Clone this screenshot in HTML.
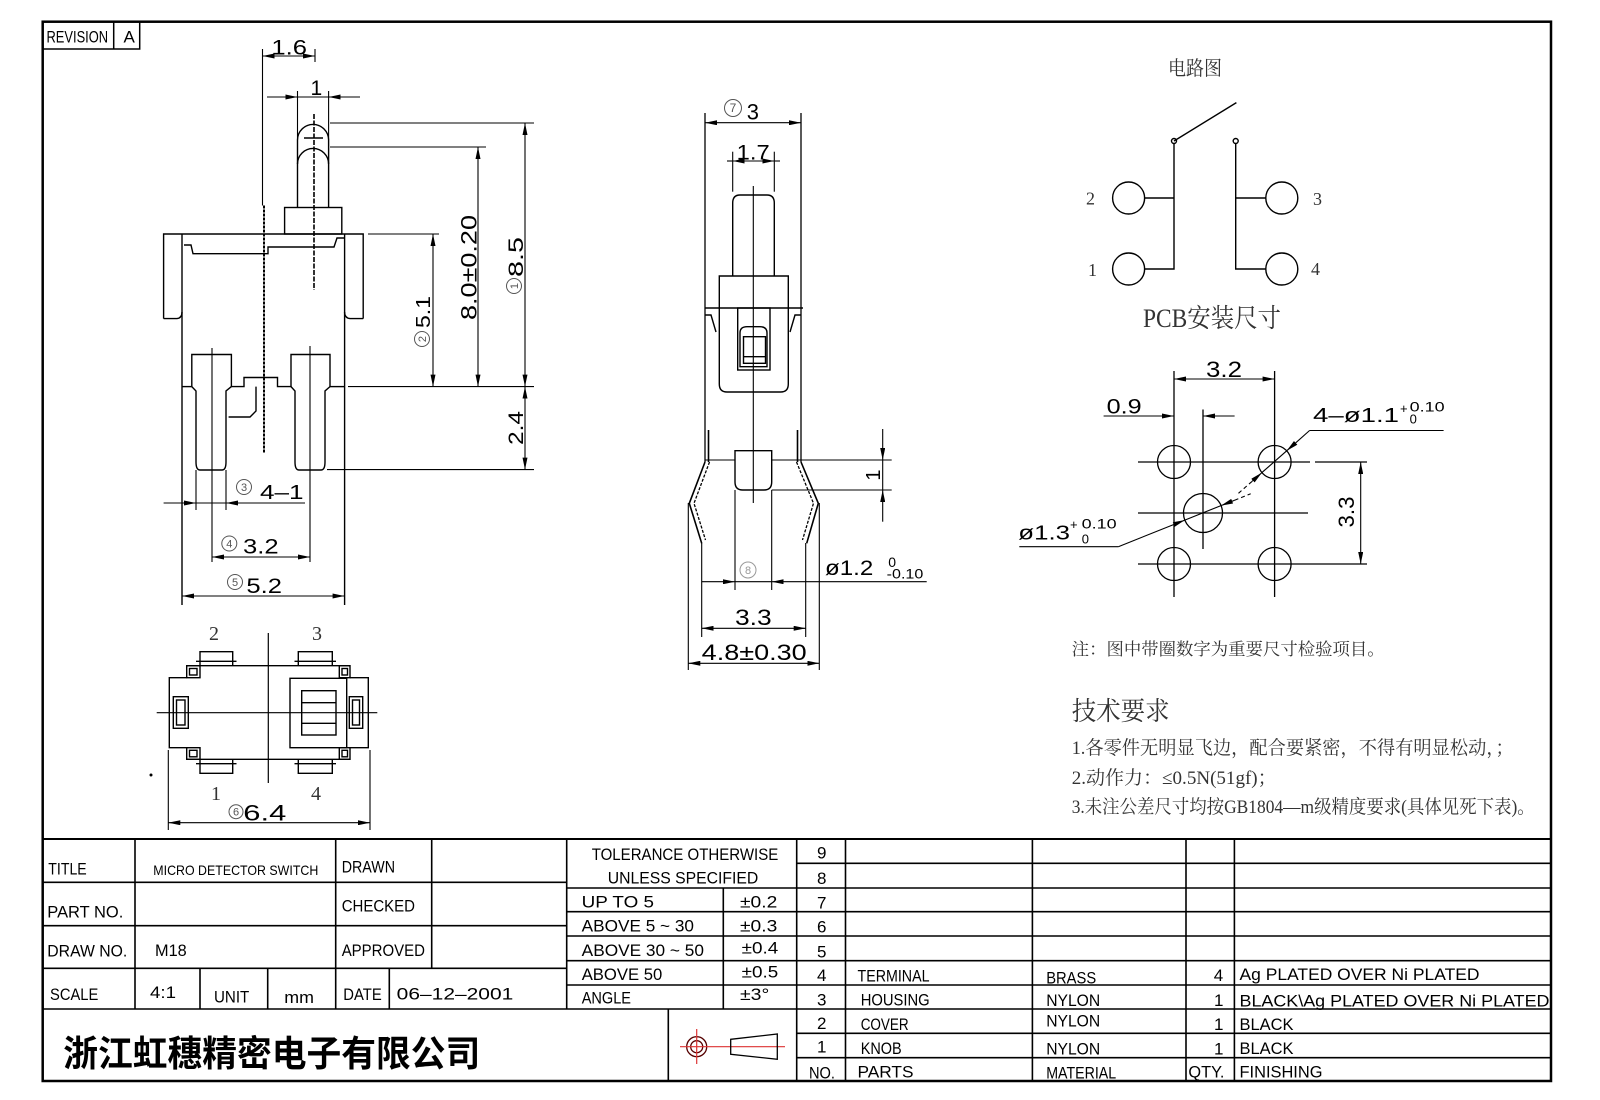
<!DOCTYPE html>
<html><head><meta charset="utf-8"><style>
html,body{margin:0;padding:0;background:#fff;}
svg{display:block}
text{font-family:"Liberation Sans","Noto Sans CJK SC",sans-serif;fill:#000;stroke:none}
.cj{font-family:"Liberation Serif","Noto Serif CJK SC",serif;fill:#333}
.sf{font-family:"Liberation Serif",serif;fill:#333}
.cn{fill:#555}
.gy{fill:#999}
.bold{font-family:"Liberation Sans","Noto Sans CJK SC",sans-serif;font-weight:bold;fill:#000}
</style></head><body>
<svg width="1600" height="1100" viewBox="0 0 1600 1100" xmlns="http://www.w3.org/2000/svg">
<defs><marker id="a" viewBox="0 0 12 5" refX="12" refY="2.5" markerWidth="12" markerHeight="5" markerUnits="userSpaceOnUse" orient="auto-start-reverse"><path d="M0,0L12,2.5L0,5z" fill="#000" stroke="none"/></marker></defs>

<g fill="none" stroke="#000" stroke-width="1.4">
<!-- border & revision -->
<rect x="42.7" y="21.7" width="1508.3" height="1059.3" stroke-width="2.5"/>
<rect x="42.7" y="21.7" width="97" height="27.3" stroke-width="1.5"/>
<line x1="113.7" y1="21.7" x2="113.7" y2="49" stroke-width="1.5"/>

<!-- ===== LEFT VIEW ===== -->
<path d="M297.5,207.5V140A15.55,15.55 0 0 1 328.6,140V207.5"/>
<path d="M297.5,164A15.55,15.55 0 0 1 328.6,164"/>
<line x1="304" y1="138" x2="323" y2="138"/>
<line x1="314" y1="114" x2="314" y2="290" stroke-dasharray="5 1.5" stroke-width="1.6"/>
<rect x="284.6" y="207.5" width="57.2" height="26.5"/>
<path d="M163.6,318.6V234H363.2V318.6"/>
<path d="M163.6,318.6H177Q182,318 182,312"/>
<path d="M363.2,318.6H350Q344.6,318 344.6,312"/>
<line x1="182" y1="234" x2="182" y2="605"/>
<line x1="344.6" y1="234" x2="344.6" y2="605"/>
<path d="M184,245H191L193,253.7H268V247H334L337,238H344.6"/>
<path d="M182,386.6H191.8"/>
<path d="M191.8,386.6V354.5H231.4V386.6"/>
<path d="M191.8,386.6L196,391V462Q196,470 200,470H222Q226,470 226,462V391L231.4,386.6"/>
<path d="M231.4,386.6H244V377.5H277.5V386.6H291"/>
<path d="M256,386.6V411L250,417H228.6"/>
<path d="M291,386.6V354.5H330V386.6"/>
<path d="M291,386.6L295,391V462Q295,470 299,470H321Q325,470 325,462V391L330,386.6"/>
<path d="M330,386.6H344.6"/>
<line x1="264" y1="205.5" x2="264" y2="452.5" stroke-dasharray="3 1" stroke-width="2"/>
<g stroke-width="1.1">
<line x1="212" y1="348" x2="212" y2="562"/>
<line x1="310" y1="346" x2="310" y2="562"/>
<line x1="196" y1="470" x2="196" y2="510"/>
<line x1="226" y1="470" x2="226" y2="510"/>
<!-- 1.6 -->
<line x1="262.5" y1="49" x2="262.5" y2="205.5"/>
<line x1="315" y1="49" x2="315" y2="62"/>
<line x1="262.5" y1="56" x2="315" y2="56" marker-start="url(#a)" marker-end="url(#a)"/>
<!-- 1 -->
<line x1="297.5" y1="91" x2="297.5" y2="140"/>
<line x1="328.6" y1="91" x2="328.6" y2="140"/>
<line x1="267" y1="97" x2="297.5" y2="97" marker-end="url(#a)"/>
<line x1="360" y1="97" x2="328.6" y2="97" marker-end="url(#a)"/>
<line x1="297.5" y1="97" x2="328.6" y2="97"/>
<!-- right dims -->
<line x1="330" y1="123" x2="534" y2="123"/>
<line x1="330" y1="147" x2="486" y2="147"/>
<line x1="368" y1="234" x2="439" y2="234"/>
<line x1="348" y1="386.6" x2="534" y2="386.6"/>
<line x1="327" y1="469.6" x2="534" y2="469.6"/>
<line x1="433" y1="234" x2="433" y2="386.6" marker-start="url(#a)" marker-end="url(#a)"/>
<line x1="478" y1="147" x2="478" y2="386.6" marker-start="url(#a)" marker-end="url(#a)"/>
<line x1="525" y1="123" x2="525" y2="386.6" marker-start="url(#a)" marker-end="url(#a)"/>
<line x1="525" y1="386.6" x2="525" y2="469.6" marker-start="url(#a)" marker-end="url(#a)"/>
<!-- bottom dims -->
<line x1="163.6" y1="503" x2="196" y2="503" marker-end="url(#a)"/>
<line x1="305" y1="503" x2="226" y2="503" marker-end="url(#a)"/>
<line x1="196" y1="503" x2="226" y2="503"/>
<line x1="212" y1="557" x2="310" y2="557" marker-start="url(#a)" marker-end="url(#a)"/>
<line x1="182" y1="596" x2="344.6" y2="596" marker-start="url(#a)" marker-end="url(#a)"/>
</g>
<g stroke="#555" stroke-width="1">
<circle cx="422" cy="339" r="7.5"/>
<circle cx="514" cy="286" r="7.5"/>
<circle cx="244" cy="487" r="7.5"/>
<circle cx="229.3" cy="543.5" r="7.5"/>
<circle cx="235" cy="582" r="7.5"/>
<circle cx="236" cy="811.7" r="7"/>
<circle cx="733" cy="108" r="8.5"/>
</g>
<circle cx="748" cy="570" r="8" stroke="#999" stroke-width="1"/>

<!-- ===== MIDDLE VIEW ===== -->
<path d="M732.7,276V203Q732.7,195 740,195H767Q774.3,195 774.3,203V276"/>
<line x1="753.3" y1="186" x2="753.3" y2="503" stroke-width="1.1"/>
<path d="M719.3,276H788.3V384Q788.3,392 780.6,392H727Q719.3,392 719.3,384Z"/>
<line x1="705" y1="308" x2="803" y2="308"/>
<line x1="705" y1="113" x2="705" y2="462" stroke-width="1.3"/>
<line x1="801" y1="113" x2="801" y2="462" stroke-width="1.3"/>
<path d="M705,315H711L716,332M801,315H795L790,332"/>
<rect x="737.7" y="308" width="32.3" height="62"/>
<path d="M740,366.7V333Q740,326.7 747,326.7H760Q767,326.7 767,333V366.7Z"/>
<rect x="743.5" y="336.7" width="22" height="26.6"/>
<line x1="743.5" y1="356.7" x2="765.5" y2="356.7"/>
<path d="M708.5,430V462M797.5,430V462" stroke-width="1.6"/>
<path d="M705,462L689.3,503.3L701.7,543.3" stroke-width="1.6"/>
<path d="M709.5,462L694,503.3L705.5,540" stroke-width="1.3" stroke-dasharray="3 1.5"/>
<path d="M801,462L818.3,503.3L806.7,543.3" stroke-width="1.6"/>
<path d="M796.5,462L813.5,503.3L802.5,540" stroke-width="1.3" stroke-dasharray="3 1.5"/>
<path d="M735,450.7H771.7V482Q771.7,490 764,490H742.7Q735,490 735,482Z"/>
<g stroke-width="1.1">
<line x1="705" y1="460" x2="735" y2="460"/>
<line x1="771.7" y1="460" x2="891.7" y2="460"/>
<line x1="771.7" y1="490" x2="891.7" y2="490"/>
<line x1="688.3" y1="503" x2="688.3" y2="670"/>
<line x1="819.3" y1="503" x2="819.3" y2="670"/>
<line x1="701.7" y1="543" x2="701.7" y2="637"/>
<line x1="805.7" y1="543" x2="805.7" y2="637"/>
<line x1="735" y1="490" x2="735" y2="590"/>
<line x1="771.7" y1="490" x2="771.7" y2="590"/>
<line x1="705" y1="122.7" x2="801" y2="122.7" marker-start="url(#a)" marker-end="url(#a)"/>
<line x1="732.7" y1="151.7" x2="732.7" y2="191.7"/>
<line x1="774.3" y1="151.7" x2="774.3" y2="191.7"/>
<line x1="732.7" y1="161" x2="774.3" y2="161" marker-start="url(#a)" marker-end="url(#a)"/>
<line x1="727" y1="161" x2="732.7" y2="161"/>
<line x1="774.3" y1="161" x2="780" y2="161"/>
<line x1="882.7" y1="429" x2="882.7" y2="460" marker-end="url(#a)"/>
<line x1="882.7" y1="521.7" x2="882.7" y2="490" marker-end="url(#a)"/>
<line x1="882.7" y1="460" x2="882.7" y2="490"/>
<line x1="701.7" y1="581.7" x2="735" y2="581.7" marker-end="url(#a)"/>
<line x1="926.7" y1="581.7" x2="771.7" y2="581.7" marker-end="url(#a)"/>
<line x1="735" y1="581.7" x2="771.7" y2="581.7"/>
<line x1="701.7" y1="628.3" x2="805.7" y2="628.3" marker-start="url(#a)" marker-end="url(#a)"/>
<line x1="688.3" y1="663.3" x2="819.3" y2="663.3" marker-start="url(#a)" marker-end="url(#a)"/>
</g>

<!-- ===== BOTTOM-LEFT VIEW ===== -->
<line x1="268.3" y1="633" x2="268.3" y2="783" stroke-width="1.2"/>
<line x1="156.7" y1="712.7" x2="377.3" y2="712.7" stroke-width="1.2"/>
<line x1="186.7" y1="665.7" x2="350" y2="665.7"/>
<line x1="186.7" y1="759.3" x2="350" y2="759.3"/>
<path d="M186.7,677.7H169.3V747.7H186.7"/>
<path d="M350,677.7H368.3V747.7H350"/>
<rect x="186.7" y="665.7" width="13.3" height="12"/><rect x="189.5" y="668.5" width="7.5" height="6.5"/>
<rect x="339.3" y="665.7" width="10.7" height="12"/><rect x="342" y="668.5" width="5.5" height="6.5"/>
<rect x="186.7" y="747.7" width="13.3" height="11.6"/><rect x="189.5" y="750.3" width="7.5" height="6.5"/>
<rect x="339.3" y="747.7" width="10.7" height="11.6"/><rect x="342" y="750.3" width="5.5" height="6.5"/>
<path d="M200,665.7V651.7H232.7V665.7"/><line x1="196" y1="661.3" x2="236.5" y2="661.3"/>
<path d="M298.3,665.7V651.7H332.3V665.7"/><line x1="294.5" y1="661.3" x2="336" y2="661.3"/>
<path d="M200,759.3V773.3H232.7V759.3"/><line x1="196" y1="763.7" x2="236.5" y2="763.7"/>
<path d="M298.3,759.3V773.3H332.3V759.3"/><line x1="294.5" y1="763.7" x2="336" y2="763.7"/>
<rect x="290" y="678.3" width="56.7" height="69.4"/>
<rect x="301.7" y="690.7" width="34.3" height="44.3"/>
<line x1="301.7" y1="702.7" x2="336" y2="702.7"/><line x1="301.7" y1="723.3" x2="336" y2="723.3"/>
<rect x="173.3" y="696.7" width="15" height="31.6"/><rect x="176.5" y="700" width="8.5" height="25"/>
<rect x="349.3" y="696.7" width="13.4" height="31.6"/><rect x="352.5" y="700" width="7" height="25"/>
<g stroke-width="1.1">
<line x1="168.3" y1="750" x2="168.3" y2="830"/><line x1="370" y1="750" x2="370" y2="830"/>
<line x1="168.3" y1="822.7" x2="370" y2="822.7" marker-start="url(#a)" marker-end="url(#a)"/>
</g>
<circle cx="151" cy="775" r="0.8" fill="#000"/>

<!-- ===== CIRCUIT ===== -->
<line x1="1174" y1="141" x2="1236.4" y2="102.6"/>
<circle cx="1174" cy="141" r="2.5"/><circle cx="1235.7" cy="141" r="2.5"/>
<path d="M1174,143.5V269H1144.6M1174,198H1144.6"/>
<path d="M1235.7,143.5V269H1265.7M1235.7,198H1265.7"/>
<circle cx="1128.6" cy="198" r="16"/>
<circle cx="1128.6" cy="269" r="16"/>
<circle cx="1281.8" cy="198" r="16"/>
<circle cx="1281.8" cy="269" r="16"/>

<!-- ===== PCB ===== -->
<g stroke-width="1.3">
<line x1="1174" y1="371" x2="1174" y2="597"/>
<line x1="1274.6" y1="371" x2="1274.6" y2="597"/>
<line x1="1203" y1="409.5" x2="1203" y2="549"/>
<line x1="1138" y1="462" x2="1310" y2="462"/><line x1="1315" y1="462" x2="1367" y2="462"/>
<line x1="1138" y1="513" x2="1308" y2="513"/>
<line x1="1138" y1="564" x2="1367" y2="564"/>
<circle cx="1174" cy="462" r="16.5"/>
<circle cx="1274.6" cy="462" r="16.5"/>
<circle cx="1174" cy="564" r="16.5"/>
<circle cx="1274.6" cy="564" r="16.5"/>
<circle cx="1203" cy="513" r="19.5"/>
</g>
<g stroke-width="1.1">
<line x1="1174" y1="379" x2="1274.6" y2="379" marker-start="url(#a)" marker-end="url(#a)"/>
<line x1="1103.6" y1="416" x2="1174" y2="416" marker-end="url(#a)"/>
<line x1="1234.6" y1="416" x2="1203" y2="416" marker-end="url(#a)"/>
<line x1="1360.7" y1="462" x2="1360.7" y2="564" marker-start="url(#a)" marker-end="url(#a)"/>
<line x1="1309.6" y1="430.5" x2="1443.6" y2="430.5"/>
<line x1="1309.6" y1="430.5" x2="1286.7" y2="450.8" marker-end="url(#a)"/>
<line x1="1286.7" y1="450.8" x2="1261.9" y2="472.6"/>
<line x1="1252" y1="481.4" x2="1261.9" y2="472.6" marker-end="url(#a)"/>
<line x1="1252" y1="481.4" x2="1238" y2="493.7" stroke-dasharray="4 3"/>
<path d="M1019.3,546.7H1118.3"/>
<line x1="1118.3" y1="546.7" x2="1184.8" y2="520.1" marker-end="url(#a)"/>
<line x1="1184.8" y1="520.1" x2="1221" y2="505.6"/>
<line x1="1234.6" y1="500.2" x2="1221" y2="505.6" marker-end="url(#a)"/>
<line x1="1234.6" y1="500.2" x2="1250.7" y2="493.7" stroke-dasharray="4 3"/>
</g>

<!-- ===== TITLE BLOCK ===== -->
<g stroke-width="1.6">
<line x1="42.7" y1="839" x2="1551" y2="839" stroke-width="2"/>
<line x1="42.7" y1="882.3" x2="566.7" y2="882.3"/>
<line x1="42.7" y1="925.7" x2="566.7" y2="925.7"/>
<line x1="42.7" y1="968.3" x2="566.7" y2="968.3"/>
<line x1="42.7" y1="1009" x2="1551" y2="1009"/>
<line x1="796.7" y1="863.3" x2="1551" y2="863.3"/>
<line x1="566.7" y1="888" x2="1551" y2="888"/>
<line x1="566.7" y1="911.7" x2="1551" y2="911.7"/>
<line x1="566.7" y1="936" x2="1551" y2="936"/>
<line x1="566.7" y1="960.7" x2="1551" y2="960.7"/>
<line x1="566.7" y1="985" x2="1551" y2="985"/>
<line x1="796.7" y1="1033.3" x2="1551" y2="1033.3"/>
<line x1="796.7" y1="1057.7" x2="1551" y2="1057.7"/>
<line x1="135" y1="839" x2="135" y2="1009"/>
<line x1="335.7" y1="839" x2="335.7" y2="1009"/>
<line x1="431.7" y1="839" x2="431.7" y2="968.3"/>
<line x1="200" y1="968.3" x2="200" y2="1009"/>
<line x1="267.7" y1="968.3" x2="267.7" y2="1009"/>
<line x1="389.3" y1="968.3" x2="389.3" y2="1009"/>
<line x1="566.7" y1="839" x2="566.7" y2="1009"/>
<line x1="723.3" y1="888" x2="723.3" y2="1009"/>
<line x1="668.3" y1="1009" x2="668.3" y2="1081"/>
<line x1="796.7" y1="839" x2="796.7" y2="1081"/>
<line x1="845.5" y1="839" x2="845.5" y2="1081"/>
<line x1="1032.4" y1="839" x2="1032.4" y2="1081"/>
<line x1="1186" y1="839" x2="1186" y2="1081"/>
<line x1="1234.4" y1="839" x2="1234.4" y2="1081"/>
</g>
<!-- symbol -->
<circle cx="696.7" cy="1046.7" r="10" stroke="#500" stroke-width="1.3"/>
<circle cx="696.7" cy="1046.7" r="6" stroke="#500" stroke-width="1.3"/>
<line x1="680" y1="1046.7" x2="785" y2="1046.7" stroke="#d33" stroke-width="1.2"/>
<line x1="696.7" y1="1029" x2="696.7" y2="1064" stroke="#d33" stroke-width="1.2"/>
<path d="M730.7,1039.3L777.3,1034V1059.3L730.7,1054.3Z" stroke-width="1.3"/>
</g>

<!-- ===== TEXT ===== -->
<text x="46.5" y="42.3" font-size="17" textLength="61.6" lengthAdjust="spacingAndGlyphs">REVISION</text>
<text x="123.5" y="42.3" font-size="17">A</text>

<!-- left view texts -->
<text x="271.4" y="54.5" font-size="21" textLength="35.6" lengthAdjust="spacingAndGlyphs">1.6</text>
<text x="310.5" y="95" font-size="21">1</text>
<text transform="translate(430,312) rotate(-90)" font-size="20" text-anchor="middle" textLength="32" lengthAdjust="spacingAndGlyphs">5.1</text>
<text class="cn" transform="translate(426,339) rotate(-90)" font-size="11" text-anchor="middle">2</text>
<text transform="translate(476.5,267.5) rotate(-90)" font-size="22" text-anchor="middle" textLength="105" lengthAdjust="spacingAndGlyphs">8.0±0.20</text>
<text transform="translate(523,257) rotate(-90)" font-size="21" text-anchor="middle" textLength="40" lengthAdjust="spacingAndGlyphs">8.5</text>
<text class="cn" transform="translate(518,286) rotate(-90)" font-size="11" text-anchor="middle">1</text>
<text transform="translate(523,428) rotate(-90)" font-size="21" text-anchor="middle" textLength="34" lengthAdjust="spacingAndGlyphs">2.4</text>
<text class="cn" x="244" y="491" font-size="11" text-anchor="middle">3</text>
<text x="260" y="499" font-size="20" textLength="43.6" lengthAdjust="spacingAndGlyphs">4–1</text>
<text class="cn" x="229.3" y="547.5" font-size="11" text-anchor="middle">4</text>
<text x="243" y="553.4" font-size="21" textLength="35.6" lengthAdjust="spacingAndGlyphs">3.2</text>
<text class="cn" x="235" y="586" font-size="11" text-anchor="middle">5</text>
<text x="246.4" y="593" font-size="21" textLength="35.6" lengthAdjust="spacingAndGlyphs">5.2</text>

<!-- middle view texts -->
<text class="cn" x="733" y="112" font-size="12" text-anchor="middle">7</text>
<text x="746.7" y="119.3" font-size="22">3</text>
<text x="736.7" y="159.5" font-size="21" textLength="33" lengthAdjust="spacingAndGlyphs">1.7</text>
<text transform="translate(880,475) rotate(-90)" font-size="20" text-anchor="middle">1</text>
<text x="825" y="575" font-size="21" textLength="48.3" lengthAdjust="spacingAndGlyphs">ø1.2</text>
<text x="888.3" y="567" font-size="14">0</text>
<text x="886.7" y="578.3" font-size="14" textLength="36.6" lengthAdjust="spacingAndGlyphs">-0.10</text>
<text class="gy" x="748" y="574" font-size="11" text-anchor="middle">8</text>
<text x="735" y="625" font-size="22" textLength="36.7" lengthAdjust="spacingAndGlyphs">3.3</text>
<text x="701.7" y="660" font-size="22" textLength="105" lengthAdjust="spacingAndGlyphs">4.8±0.30</text>

<!-- bottom view texts -->
<text class="sf" x="214" y="640" font-size="20" text-anchor="middle">2</text>
<text class="sf" x="317" y="640" font-size="20" text-anchor="middle">3</text>
<text class="sf" x="216" y="800" font-size="20" text-anchor="middle">1</text>
<text class="sf" x="316" y="800" font-size="20" text-anchor="middle">4</text>
<text class="cn" x="236" y="815.7" font-size="11" text-anchor="middle">6</text>
<text x="243.3" y="820.7" font-size="22" textLength="43" lengthAdjust="spacingAndGlyphs">6.4</text>

<!-- circuit texts -->
<text class="cj" x="1168" y="75" font-size="20" textLength="54" lengthAdjust="spacingAndGlyphs">电路图</text>
<text class="sf" x="1086" y="204.7" font-size="18">2</text>
<text class="sf" x="1088" y="276" font-size="18">1</text>
<text class="sf" x="1313" y="205" font-size="18">3</text>
<text class="sf" x="1311" y="275" font-size="18">4</text>
<text class="cj" x="1143" y="327" font-size="26" textLength="138" lengthAdjust="spacingAndGlyphs">PCB安装尺寸</text>

<!-- pcb texts -->
<text x="1206" y="377" font-size="22" textLength="36" lengthAdjust="spacingAndGlyphs">3.2</text>
<text x="1106.7" y="413.3" font-size="21" textLength="35" lengthAdjust="spacingAndGlyphs">0.9</text>
<text x="1313" y="422" font-size="20" textLength="86" lengthAdjust="spacingAndGlyphs">4–ø1.1</text>
<text x="1400" y="413" font-size="13">+</text>
<text x="1409.6" y="411.5" font-size="14" textLength="35" lengthAdjust="spacingAndGlyphs">0.10</text>
<text x="1409.6" y="423.5" font-size="13">0</text>
<text transform="translate(1354,512) rotate(-90)" font-size="22" text-anchor="middle" textLength="31" lengthAdjust="spacingAndGlyphs">3.3</text>
<text x="1018.3" y="539.3" font-size="20" textLength="51.7" lengthAdjust="spacingAndGlyphs">ø1.3</text>
<text x="1070" y="529" font-size="13">+</text>
<text x="1081.7" y="528.3" font-size="14" textLength="35" lengthAdjust="spacingAndGlyphs">0.10</text>
<text x="1081.7" y="543.3" font-size="13">0</text>

<!-- notes -->
<text class="cj" x="1071.7" y="655" font-size="17" textLength="313" lengthAdjust="spacingAndGlyphs">注：图中带圈数字为重要尺寸检验项目。</text>
<text class="cj" x="1071.7" y="720" font-size="26" textLength="98" lengthAdjust="spacingAndGlyphs">技术要求</text>
<text class="cj" x="1071.7" y="754" font-size="19" textLength="442" lengthAdjust="spacingAndGlyphs">1.各零件无明显飞边，配合要紧密，不得有明显松动，；</text>
<text class="cj" x="1071.7" y="784" font-size="19" textLength="205" lengthAdjust="spacingAndGlyphs">2.动作力：≤0.5N(51gf)；</text>
<text class="cj" x="1071.7" y="813" font-size="19" textLength="463" lengthAdjust="spacingAndGlyphs">3.未注公差尺寸均按GB1804—m级精度要求(具体见死下表)。</text>

<!-- title block texts -->
<g font-size="17">
<text x="48.3" y="874.3" textLength="38.4" lengthAdjust="spacingAndGlyphs">TITLE</text>
<text x="153.3" y="875" font-size="14" textLength="165" lengthAdjust="spacingAndGlyphs">MICRO DETECTOR SWITCH</text>
<text x="341.7" y="872.3" textLength="53.3" lengthAdjust="spacingAndGlyphs">DRAWN</text>
<text x="47.3" y="917.3" textLength="76" lengthAdjust="spacingAndGlyphs">PART NO.</text>
<text x="341.7" y="911.7" textLength="73.3" lengthAdjust="spacingAndGlyphs">CHECKED</text>
<text x="47.3" y="956.7" textLength="80" lengthAdjust="spacingAndGlyphs">DRAW NO.</text>
<text x="155" y="956" textLength="31.7" lengthAdjust="spacingAndGlyphs">M18</text>
<text x="341.7" y="956" textLength="83.3" lengthAdjust="spacingAndGlyphs">APPROVED</text>
<text x="50" y="1000" textLength="48.3" lengthAdjust="spacingAndGlyphs">SCALE</text>
<text x="150" y="998" textLength="26" lengthAdjust="spacingAndGlyphs">4:1</text>
<text x="214" y="1002.7" textLength="35.3" lengthAdjust="spacingAndGlyphs">UNIT</text>
<text x="284.3" y="1003" textLength="29.7" lengthAdjust="spacingAndGlyphs">mm</text>
<text x="343.3" y="1000" textLength="38.4" lengthAdjust="spacingAndGlyphs">DATE</text>
<text x="396.7" y="999.3" textLength="116.6" lengthAdjust="spacingAndGlyphs">06–12–2001</text>

<text x="591.7" y="860" textLength="186.6" lengthAdjust="spacingAndGlyphs">TOLERANCE  OTHERWISE</text>
<text x="607.7" y="883.3" textLength="150.6" lengthAdjust="spacingAndGlyphs">UNLESS  SPECIFIED</text>
<text x="581.7" y="907.3" textLength="72.3" lengthAdjust="spacingAndGlyphs">UP  TO  5</text>
<text x="740" y="907.3" textLength="37.3" lengthAdjust="spacingAndGlyphs">±0.2</text>
<text x="581.7" y="931.7" textLength="112.3" lengthAdjust="spacingAndGlyphs">ABOVE  5 ~ 30</text>
<text x="740" y="931.7" textLength="37.3" lengthAdjust="spacingAndGlyphs">±0.3</text>
<text x="581.7" y="956" textLength="122.3" lengthAdjust="spacingAndGlyphs">ABOVE  30 ~ 50</text>
<text x="741.7" y="953.3" textLength="36.6" lengthAdjust="spacingAndGlyphs">±0.4</text>
<text x="581.7" y="980" textLength="80.6" lengthAdjust="spacingAndGlyphs">ABOVE  50</text>
<text x="741.7" y="977.7" textLength="36.6" lengthAdjust="spacingAndGlyphs">±0.5</text>
<text x="581.7" y="1003.3" textLength="49.3" lengthAdjust="spacingAndGlyphs">ANGLE</text>
<text x="740" y="1000" textLength="29.3" lengthAdjust="spacingAndGlyphs">±3°</text>

<g text-anchor="middle">
<text x="821.7" y="858.3">9</text>
<text x="821.7" y="884">8</text>
<text x="821.7" y="908.3">7</text>
<text x="821.7" y="932.3">6</text>
<text x="821.7" y="957.3">5</text>
<text x="821.7" y="981">4</text>
<text x="821.7" y="1005.7">3</text>
<text x="821.7" y="1029">2</text>
<text x="821.7" y="1052.7">1</text>
</g>
<text x="809" y="1078.3" textLength="26" lengthAdjust="spacingAndGlyphs">NO.</text>

<text x="857.5" y="981.7" textLength="72" lengthAdjust="spacingAndGlyphs">TERMINAL</text>
<text x="1046.2" y="983.3" textLength="50" lengthAdjust="spacingAndGlyphs">BRASS</text>
<text x="1213.7" y="981">4</text>
<text x="1239.5" y="980" textLength="240" lengthAdjust="spacingAndGlyphs">Ag  PLATED  OVER  Ni  PLATED</text>
<text x="860.7" y="1005.7" textLength="69" lengthAdjust="spacingAndGlyphs">HOUSING</text>
<text x="1046.2" y="1006" textLength="54" lengthAdjust="spacingAndGlyphs">NYLON</text>
<text x="1214" y="1006">1</text>
<text x="1239.5" y="1006.7" textLength="310" lengthAdjust="spacingAndGlyphs">BLACK\Ag  PLATED  OVER  Ni  PLATED</text>
<text x="860.7" y="1030" textLength="48" lengthAdjust="spacingAndGlyphs">COVER</text>
<text x="1046.2" y="1026.7" textLength="54" lengthAdjust="spacingAndGlyphs">NYLON</text>
<text x="1214" y="1030">1</text>
<text x="1239.5" y="1030" textLength="54" lengthAdjust="spacingAndGlyphs">BLACK</text>
<text x="860.7" y="1054" textLength="41" lengthAdjust="spacingAndGlyphs">KNOB</text>
<text x="1046.2" y="1054.3" textLength="54" lengthAdjust="spacingAndGlyphs">NYLON</text>
<text x="1214" y="1054.7">1</text>
<text x="1239.5" y="1054" textLength="54" lengthAdjust="spacingAndGlyphs">BLACK</text>
<text x="857.5" y="1077.7" textLength="56" lengthAdjust="spacingAndGlyphs">PARTS</text>
<text x="1046.2" y="1078.3" textLength="70" lengthAdjust="spacingAndGlyphs">MATERIAL</text>
<text x="1188.4" y="1077.7" textLength="36" lengthAdjust="spacingAndGlyphs">QTY.</text>
<text x="1239.5" y="1077.7" textLength="83" lengthAdjust="spacingAndGlyphs">FINISHING</text>
</g>

<text class="bold" x="63.3" y="1066" font-size="36" textLength="417" lengthAdjust="spacingAndGlyphs">浙江虹穗精密电子有限公司</text>
</svg>
</body></html>
